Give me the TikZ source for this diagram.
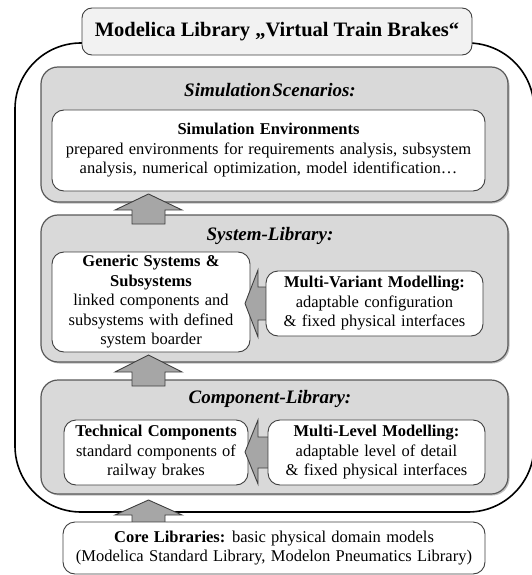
\documentclass[tikz,border=0pt]{standalone}
\usepackage{fontspec}
\setmainfont{Liberation Serif}
\usetikzlibrary{shadows}
\definecolor{layergray}{HTML}{D9D9D9}
\definecolor{arrowgray}{HTML}{A6A6A6}
\definecolor{edgegray}{HTML}{595959}
\definecolor{darkedge}{HTML}{3F3F3F}
\definecolor{titlefill}{HTML}{F2F2F2}
\newcommand\mybodyfont{\fontsize{16.5}{19.5}\selectfont\setlength{\spaceskip}{0.32em plus 0.1em minus 0.05em}}
\begin{document}
\begin{tikzpicture}[x=1pt,y=-1pt,
  outerbox/.style={draw=black, line width=1.6pt, rounded corners=66pt},
  layer/.style={draw=edgegray, fill=layergray, line width=1.2pt, rounded corners=17pt,
    drop shadow={shadow xshift=1.5pt,shadow yshift=-1.5pt,fill=black,opacity=0.25}},
  whitebox/.style={draw=darkedge, fill=white, line width=0.9pt, rounded corners=12pt,
    align=center, inner sep=0pt, font=\mybodyfont},
  titlebox/.style={draw=darkedge, fill=titlefill, line width=0.9pt, rounded corners=10pt,
    inner sep=0pt, font=\fontsize{20.5}{23}\selectfont\bfseries},
  heading/.style={font=\fontsize{19}{22}\selectfont\bfseries\itshape, inner sep=0pt},
  blockarrow/.style={draw=darkedge, fill=arrowgray, line width=0.9pt, line join=miter}
]
\useasboundingbox (0,0) rectangle (532,575);
\clip (0,0) rectangle (532,575);

% outer library frame (its right side runs off the picture)
\draw[outerbox] (15,43) rectangle (534,512);
\node[titlebox, minimum width=390pt, minimum height=47pt] (title) at (277,31.5)
  {Modelica Library „Virtual Train Brakes“};

% layers
\node[layer, minimum width=467pt, minimum height=135pt] (simlayer) at (274.5,134.5) {};
\node[layer, minimum width=467pt, minimum height=147pt] (syslayer) at (274.5,288.5) {};
\node[layer, minimum width=467pt, minimum height=114pt] (complayer) at (274.5,437) {};

\node[heading] (simhead) at (270,90) {Simulation\hspace{0.08em}Scenarios:};
\node[heading] (syshead) at (270,236) {System-Library:};
\node[heading] (comphead) at (270,399) {Component-Library:};

% simulation environments
\node[whitebox, minimum width=433pt, minimum height=81pt] (simenv) at (268.5,150.5)
  {\textbf{Simulation Environments}\\
   prepared environments for requirements analysis, subsystem\\
   analysis, numerical optimization, model identification…};

% vertical arrow 1 (system -> simulation)
\draw[blockarrow] (148.5,194) -- (182,210) -- (165,210) -- (165,224) -- (132,224) -- (132,210) -- (115,210) -- cycle;

% system library
\node[whitebox, minimum width=198pt, minimum height=100pt] (generic) at (151,302)
  {\textbf{Generic Systems \&}\\
   \textbf{Subsystems}\\
   linked components and\\
   subsystems with defined\\
   system boarder};
\draw[blockarrow] (245,303.5) -- (258,270) -- (258,287) -- (275,287) -- (275,320) -- (258,320) -- (258,337) -- cycle;
\node[whitebox, minimum width=217pt, minimum height=65pt] (multivar) at (374.5,303.5)
  {\textbf{Multi-Variant Modelling:}\\
   adaptable configuration\\
   \& fixed physical interfaces};

% vertical arrow 2 (component -> system)
\draw[blockarrow] (148.5,355) -- (182,372) -- (165,372) -- (165,386) -- (132,386) -- (132,372) -- (115,372) -- cycle;

% component library
\node[whitebox, minimum width=184pt, minimum height=65pt] (techcomp) at (156,452.5)
  {\textbf{Technical Components}\\
   standard components of\\
   railway brakes};
\draw[blockarrow] (245,452) -- (258,420) -- (258,437) -- (275,437) -- (275,468) -- (258,468) -- (258,484) -- cycle;
\node[whitebox, minimum width=217pt, minimum height=65pt] (multilevel) at (376.5,452.5)
  {\textbf{Multi-Level Modelling:}\\
   adaptable level of detail\\
   \& fixed physical interfaces};

% vertical arrow 3 (core -> component)
\draw[blockarrow] (148.5,500) -- (182,515) -- (165,515) -- (165,523) -- (132,523) -- (132,515) -- (115,515) -- cycle;

% core libraries
\node[whitebox, minimum width=422pt, minimum height=52pt] (core) at (274,548)
  {\textbf{Core Libraries:} basic physical domain models\\
   (Modelica Standard Library, Modelon Pneumatics Library)};
\end{tikzpicture}
\end{document}
